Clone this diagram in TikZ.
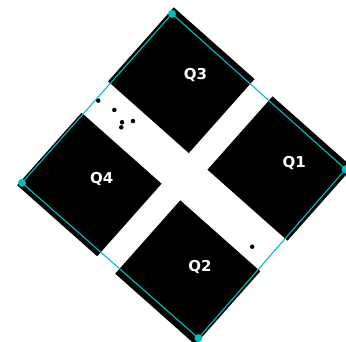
\documentclass[tikz,border=0pt]{standalone}
\usepackage{fontspec}
\setsansfont{DejaVu Sans}
\usetikzlibrary{calc}
\definecolor{framecyan}{RGB}{0,191,191}

\begin{document}
\begin{tikzpicture}[
  x=1pt, y=1pt,
  pad/.style={fill=black},
  padlabel/.style={text=white, inner sep=0pt, font=\sffamily\bfseries\fontsize{15}{15}\selectfont},
  corner/.style={circle, fill=framecyan, inner sep=0pt, minimum size=8pt},
  hit/.style={circle, fill=black, inner sep=0pt, minimum size=4.5pt},
  frame/.style={draw=framecyan, line width=1.1pt}
]
\useasboundingbox (0,0) rectangle (346,-342);

\begin{scope}[shift={(184.5,-176)}, rotate=-41.6]
% Quadrant pads
\fill[pad] (13,20) rectangle (120,118);     % Q1
\fill[pad] (13,-119) rectangle (120,-21);   % Q2
\fill[pad] (-120,20) rectangle (-12,119);   % Q3
\fill[pad] (-119,-118) rectangle (-12,-21); % Q4

% Corner markers
\node[corner] (ctop) at (-117,113) {};
\node[corner] (cright) at (116,112) {};
\node[corner] (cbottom) at (118,-112) {};
\node[corner] (cleft) at (-117,-113) {};

% Frame between the markers
\draw[frame] (ctop.center) -- (cright.center) -- (cbottom.center) -- (cleft.center) -- cycle;

% Scattered hits
\node[hit] (h1) at (-114.5,-0.9) {};
\node[hit] (h2) at (-96.3,2.8) {};
\node[hit] (h3) at (-75,6.9) {};
\node[hit] (h4) at (-82.4,-1.3) {};
\node[hit] (h5) at (-79.6,-5.6) {};
\node[hit] (h6) at (97.6,-7.9) {};

% Labels (text stays upright)
\node[padlabel] (q1) at (73.6,82.3) {Q1};
\node[padlabel] (q2) at (72,-57.8) {Q2};
\node[padlabel] (q3) at (-59,83) {Q3};
\node[padlabel] (q4) at (-59.7,-57.5) {Q4};
\end{scope}

\end{tikzpicture}
\end{document}
